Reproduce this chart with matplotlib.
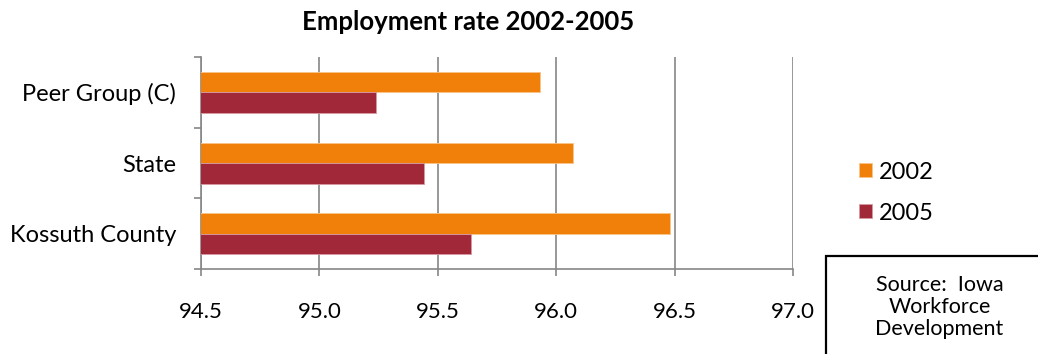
import matplotlib.pyplot as plt
from matplotlib.patches import Rectangle
import numpy as np

plt.rcParams["font.family"] = ["Lato", "DejaVu Sans"]

# employment rate (%) by area
areas = ["Kossuth County", "State", "Peer Group (C)"]
rate_2002 = [96.48, 96.07, 95.93]
rate_2005 = [95.64, 95.44, 95.24]
years = ["2002", "2005"]
x_ticks = [94.5, 95.0, 95.5, 96.0, 96.5, 97.0]

orange = "#F0800A"
maroon = "#A12838"
grid_gray = "#868686"

fig = plt.figure(figsize=(10.38, 3.54), dpi=100)
ax = fig.add_axes([0.1936, 0.240, 0.5703, 0.599])

y = np.arange(len(areas))
h = 0.29
ax.barh(y + h / 2, rate_2002, height=h, left=0, color=orange, edgecolor="#F8C48A",
        linewidth=0.6, label=years[0], zorder=3)
ax.barh(y - h / 2, rate_2005, height=h, left=0, color=maroon, edgecolor="#D89AA2",
        linewidth=0.6, label=years[1], zorder=3)

ax.set_xlim(94.5, 97.0)
ax.set_ylim(-0.5, 2.5)
ax.set_xticks(x_ticks)
ax.set_xticklabels([f"{v:.1f}" for v in x_ticks], fontsize=16)
ax.grid(axis="x", color=grid_gray, linewidth=1.2, zorder=0)

# boundary ticks between categories, names centred on each group
ax.set_yticks([-0.5, 0.5, 1.5, 2.5])
ax.set_yticklabels([])
ax.set_yticks(y, minor=True)
ax.set_yticklabels(areas, minor=True, fontsize=17)
ax.tick_params(axis="y", which="minor", length=0, pad=18)
ax.tick_params(axis="y", which="major", length=5, width=1.2, color=grid_gray)
ax.tick_params(axis="x", length=5, width=1.2, color=grid_gray, pad=19)

for side in ["top", "right"]:
    ax.spines[side].set_visible(False)
for side in ["left", "bottom"]:
    ax.spines[side].set_color(grid_gray)
    ax.spines[side].set_linewidth(1.2)

fig.text(0.451, 0.938, "Employment rate 2002-2005", ha="center", va="center",
         fontsize=18.5, fontweight="bold")

ax.legend(loc="center left", bbox_to_anchor=(1.076, 0.36), frameon=False,
          fontsize=17, handlelength=0.55, handleheight=0.55, handletextpad=0.3,
          labelspacing=0.85)

# source note box running off the lower right corner
box = Rectangle((0.7958, -0.05), 0.3, 0.327, transform=fig.transFigure,
                facecolor="white", edgecolor="black", linewidth=1.6, clip_on=False)
fig.patches.append(box)
fig.text(0.905, 0.133, "Source:  Iowa\nWorkforce\nDevelopment", ha="center",
         va="center", fontsize=15.5, linespacing=1.15)

fig.savefig("out.png", dpi=100)
